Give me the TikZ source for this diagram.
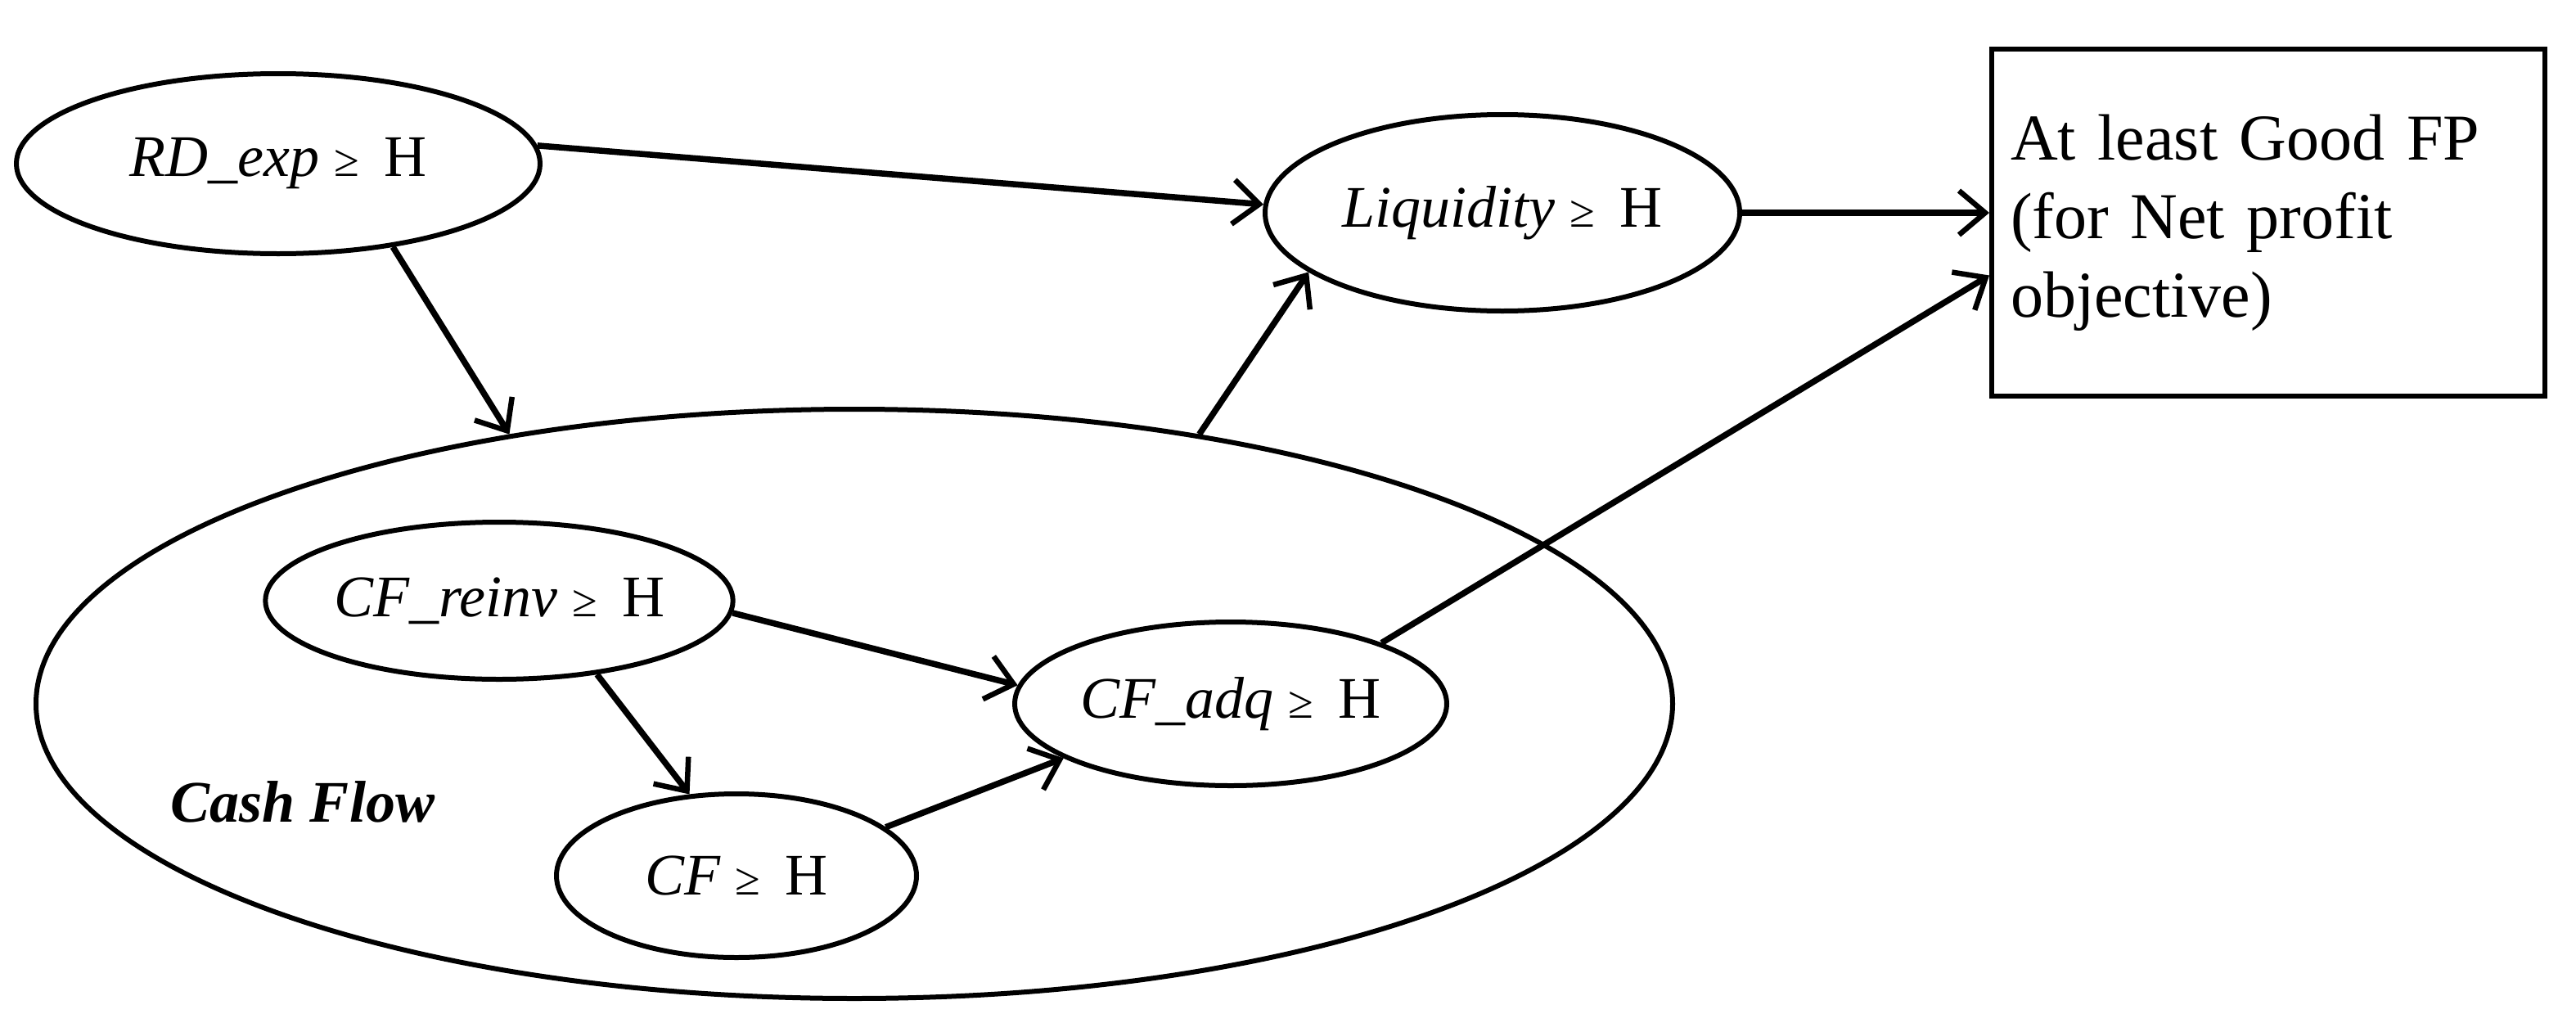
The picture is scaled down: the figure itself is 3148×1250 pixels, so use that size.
\documentclass[tikz,border=0pt]{standalone}
\usepackage{fontspec}
\setmainfont{Liberation Serif}
\usetikzlibrary{shapes.geometric,arrows.meta,calc}
\begin{document}
\begin{tikzpicture}[x=1pt,y=-1pt,
  el/.style={ellipse,draw,line width=6pt,inner sep=0pt},
  ar/.style={line width=7.5pt,-{Straight Barb[length=32pt,width=54pt,line width=6.5pt]}},
  every node/.style={font=\fontsize{72}{86}\selectfont}]
\useasboundingbox (0,0) rectangle (3148,1250);
\node[el,minimum width=2000,minimum height=720] (cash) at (1044,860) {};
\node[el,minimum width=640,minimum height=220] (rd) at (340,200) {\textit{RD\_exp} {\fontsize{56}{60}\selectfont ≥}\, H};
\node[el,minimum width=580,minimum height=240] (liq) at (1836,260) {\textit{Liquidity} {\fontsize{56}{60}\selectfont ≥}\, H};
\node[draw,line width=6pt,minimum width=676,minimum height=424,align=left,text width=630,font=\fontsize{80}{96}\selectfont] (box) at (2772,272) {At least Good FP\\(for Net profit\\objective)};
\node[el,minimum width=552,minimum height=192] (reinv) at (610,734) {\textit{CF\_reinv} {\fontsize{56}{60}\selectfont ≥}\, H};
\node[el,minimum width=528,minimum height=200] (adq) at (1504,860) {\textit{CF\_adq} {\fontsize{56}{60}\selectfont ≥}\, H};
\node[el,minimum width=440,minimum height=200] (cf) at (900,1070) {\textit{CF} {\fontsize{56}{60}\selectfont ≥}\, H};
\node[font=\fontsize{72}{86}\selectfont\bfseries\itshape] (lbl) at (370,980) {Cash Flow};
\draw[ar] (rd.4) -- (liq.178);
\draw[ar] (rd.-36) -- (cash.142);
\draw[ar] (cash.38) -- (liq.-163);
\draw[ar] (liq.east) -- (liq.east -| box.west);
\draw[ar] (adq.22) -- ($(box.north west)!0.65!(box.south west)$);
\draw[ar] (reinv.-3) -- (adq.175);
\draw[ar] (reinv.-37) -- (cf.120);
\draw[ar] (cf.18) -- (adq.198);
\end{tikzpicture}
\end{document}
